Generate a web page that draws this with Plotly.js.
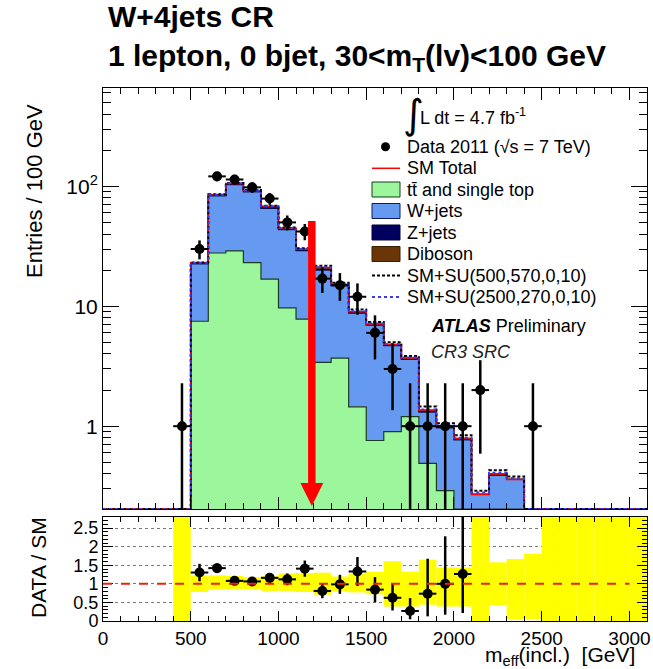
<!DOCTYPE html>
<html>
<head>
<meta charset="utf-8">
<script src="https://cdn.plot.ly/plotly-3.0.1.min.js"></script>
<style>
  html, body { margin: 0; padding: 0; background: #fff; }
  #chart { width: 653px; height: 669px; }
</style>
</head>
<body>
<div id="chart"></div>
<script>
// ---- m_eff(incl.) histogram, 100 GeV bins (bin centres in GeV) ----
const binCentres = [450, 550, 650, 750, 850, 950, 1050, 1150, 1250, 1350, 1450,
                    1550, 1650, 1750, 1850, 1950, 2050, 2150, 2250, 2350, 2450];

// Data 2011 event counts and their error bars
const dataCounts  = [1, 30, 121, 114, 98, 79, 50, 42, 17, 15, 12, 6, 3, 1, 1, 1, 1, 2, 0, 0, 1];
const dataErrUp   = [1.28, 5.4, 11, 10.7, 9.9, 8.9, 7.1, 6.5, 4.1, 3.9, 3.5, 2.4, 1.9, 1.28, 1.28, 1.28, 1.28, 1.55, 0, 0, 1.28];
const dataErrDown = [0.83, 5.4, 11, 10.7, 9.9, 8.9, 7.1, 6.5, 4.1, 3.9, 3.5, 2.4, 1.64, 0.83, 0.83, 0.83, 0.83, 1.41, 0, 0, 0.83];

// SM background components (stacked)
const ttbarSingleTop = [0, 7.5, 27.8, 28.9, 23.1, 16.8, 9.7, 7.8, 3.4, 3.7, 1.45, 0.76, 0.9, 1.2, 0.49, 0.29, 0, 0, 0, 0, 0];
const wJets          = [0, 15.0, 55.4, 74.5, 66.7, 48.5, 33.8, 21.3, 16.6, 11.1, 7.3, 6.2, 3.8, 2.4, 0.82, 0.68, 0.77, 0.27, 0.39, 0.36, 0];
const zJets          = [0, 0.3, 0.8, 0.9, 0.8, 0.7, 0.5, 0.3, 0.25, 0.15, 0.1, 0.06, 0.05, 0.05, 0.02, 0.01, 0.01, 0, 0, 0, 0];
const diboson        = [0, 0.2, 1.0, 1.2, 1.4, 2.0, 0.6, 0.4, 0.75, 0.25, 0.15, 0.08, 0.05, 0.05, 0.03, 0.02, 0.01, 0, 0.01, 0, 0];

// SUSY signal contributions added on top of the SM total
const sigSU500  = [0, 0.2, 0.8, 1.0, 1.0, 1.0, 0.8, 0.6, 0.8, 0.5, 0.4, 0.3, 0.2, 0.15, 0.1, 0.06, 0.05, 0.02, 0.03, 0.02, 0];
const sigSU2500 = [0, 0.05, 0.2, 0.3, 0.3, 0.3, 0.2, 0.2, 0.15, 0.1, 0.1, 0.08, 0.05, 0.04, 0.02, 0.02, 0.01, 0.01, 0.01, 0.01, 0];

// ---- ratio panel: relative SM uncertainty band per bin ----
const bandCentres = [450, 550, 650, 750, 850, 950, 1050, 1150, 1250, 1350, 1450, 1550, 1650, 1750,
                     1850, 1950, 2050, 2150, 2250, 2350, 2450, 2550, 2650, 2750, 2850, 2950, 3050];
const bandLow  = [0, 0.78, 0.85, 0.86, 0.85, 0.81, 0.81, 0.78, 0.71, 0.80, 0.77, 0.72, 0.39, 0.39,
                  0.44, 0.39, 0.39, 0, 0.43, 0.05, 0.05, 0, 0, 0, 0, 0, 0];
const bandHigh = [2.8, 1.23, 1.23, 1.21, 1.18, 1.21, 1.28, 1.29, 1.30, 1.20, 1.28, 1.32, 1.61, 1.33,
                  1.65, 1.44, 1.44, 2.8, 1.58, 1.67, 1.81, 2.8, 2.8, 2.8, 2.8, 2.8, 2.8];

// Axis tick labels
const mainYTickVals = [1, 10, 100];
const mainYTickText = ['1', '10', '10<sup>2</sup>'];
const ratioYTickVals = [0, 0.5, 1, 1.5, 2, 2.5];
const ratioYTickText = ['0', '0.5', '1', '1.5', '2', '2.5'];

// ---- geometry ----
const W = 653, H = 669;
const PLOT = { left: 103, right: 647, top: 88, bottom: 621 };
const px2x = X => (X - PLOT.left) / (PLOT.right - PLOT.left);
const px2y = Y => (PLOT.bottom - Y) / (PLOT.bottom - PLOT.top);

const BIN_W = 100, X_MIN = 0, X_MAX = 3100;
const Y_MIN = 0.204, Y_MAX = 660;        // main panel (log)
const R_MIN = 0, R_MAX = 2.8;            // ratio panel
const Y_FLOOR = Y_MIN;                   // empty bins sit on the frame

const FONT = 'Liberation Sans, Arial, Helvetica, sans-serif';

// step outline covering the full x range
function stepXY(vals) {
  const x = [X_MIN], y = [Y_FLOOR];
  binCentres.forEach((c, i) => { x.push(c - BIN_W / 2); y.push(Math.max(vals[i], Y_FLOOR)); });
  x.push(binCentres[binCentres.length - 1] + BIN_W / 2, X_MAX);
  y.push(Y_FLOOR, Y_FLOOR);
  return { x, y };
}
const addArr = (a, b) => a.map((v, i) => v + b[i]);

const cumTop  = ttbarSingleTop;
const cumW    = addArr(cumTop, wJets);
const cumZ    = addArr(cumW, zJets);
const smTotal = addArr(cumZ, diboson);
const smSU500 = addArr(smTotal, sigSU500);
const smSU2500 = addArr(smTotal, sigSU2500);

function stackTrace(vals, fill, lineColor, name) {
  const s = stepXY(vals);
  return {
    type: 'scatter', mode: 'lines', x: s.x, y: s.y, name: name,
    xaxis: 'x', yaxis: 'y', fill: 'tonexty', fillcolor: fill,
    line: { shape: 'hv', color: lineColor, width: 1.2 },
    hoverinfo: 'skip', showlegend: false
  };
}
function lineTrace(vals, color, dash, width, name) {
  const s = stepXY(vals);
  return {
    type: 'scatter', mode: 'lines', x: s.x, y: s.y, name: name,
    xaxis: 'x', yaxis: 'y',
    line: { shape: 'hv', color: color, dash: dash, width: width },
    hoverinfo: 'skip', showlegend: false
  };
}

const base = stepXY(binCentres.map(() => 0));
const traces = [
  { type: 'scatter', mode: 'lines', x: base.x, y: base.y, xaxis: 'x', yaxis: 'y',
    line: { width: 0, shape: 'hv' }, hoverinfo: 'skip', showlegend: false },
  stackTrace(cumTop, '#9cf79c', '#1d3b1d', 'tt and single top'),
  stackTrace(cumW, '#6699f0', '#0c1c5c', 'W+jets'),
  stackTrace(cumZ, '#00005e', '#00003a', 'Z+jets'),
  stackTrace(smTotal, '#6a3608', '#3a1c00', 'Diboson'),
  lineTrace(smTotal, '#ff0000', 'solid', 1.5, 'SM Total'),
  lineTrace(smSU500, '#000000', '3px,2px', 2, 'SM+SU(500,570,0,10)'),
  lineTrace(smSU2500, '#3a3aee', 'dot', 2, 'SM+SU(2500,270,0,10)')
];

// data points (non-empty bins)
const dIdx = binCentres.map((c, i) => i).filter(i => dataCounts[i] > 0);
traces.push({
  type: 'scatter', mode: 'markers', name: 'Data 2011', xaxis: 'x', yaxis: 'y',
  x: dIdx.map(i => binCentres[i]), y: dIdx.map(i => dataCounts[i]),
  marker: { color: '#000', size: 10 },
  error_y: { type: 'data', symmetric: false, array: dIdx.map(i => dataErrUp[i]),
             arrayminus: dIdx.map(i => dataErrDown[i]), color: '#000', thickness: 2.5, width: 0 },
  error_x: { type: 'constant', value: BIN_W / 2, color: '#000', thickness: 2, width: 0 },
  showlegend: false
});

// ratio panel: uncertainty band
traces.push({
  type: 'bar', xaxis: 'x2', yaxis: 'y2', x: bandCentres,
  base: bandLow, y: bandHigh.map((h, i) => h - bandLow[i]), width: BIN_W,
  marker: { color: '#ffff00', line: { width: 0 } }, hoverinfo: 'skip', showlegend: false
});

// ratio panel: data / SM
const rIdx = dIdx.filter(i => smTotal[i] > 0 && dataCounts[i] / smTotal[i] <= R_MAX);
traces.push({
  type: 'scatter', mode: 'markers', xaxis: 'x2', yaxis: 'y2', name: 'DATA / SM',
  x: rIdx.map(i => binCentres[i]), y: rIdx.map(i => dataCounts[i] / smTotal[i]),
  marker: { color: '#000', size: 10 },
  error_y: { type: 'data', symmetric: false, array: rIdx.map(i => dataErrUp[i] / smTotal[i]),
             arrayminus: rIdx.map(i => dataErrDown[i] / smTotal[i]), color: '#000', thickness: 2.5, width: 0 },
  error_x: { type: 'constant', value: BIN_W / 2, color: '#000', thickness: 2, width: 0 },
  showlegend: false
});

// ---- legend, drawn as shapes + text ----
const legRows = [
  { y: 146.7, label: 'Data 2011 (√s = 7 TeV)', kind: 'dot' },
  { y: 168.3, label: 'SM Total', kind: 'line', color: '#ff0000', dash: 'solid', width: 1.5 },
  { y: 189.5, label: 't\u0074\u0304 and single top', kind: 'box', fill: '#9cf79c', edge: '#1d3b1d' },
  { y: 211.0, label: 'W+jets', kind: 'box', fill: '#6699f0', edge: '#0c1c5c' },
  { y: 232.5, label: 'Z+jets', kind: 'box', fill: '#00005e', edge: '#00003a' },
  { y: 254.0, label: 'Diboson', kind: 'box', fill: '#6a3608', edge: '#3a1c00' },
  { y: 275.5, label: 'SM+SU(500,570,0,10)', kind: 'line', color: '#000000', dash: '3px,2px', width: 2 },
  { y: 297.0, label: 'SM+SU(2500,270,0,10)', kind: 'line', color: '#3a3aee', dash: 'dot', width: 2 }
];
const SYM_L = 372, SYM_R = 400, TXT_X = 405, BOX_H = 15;

const shapes = [];
const annotations = [];
legRows.forEach(r => {
  if (r.kind === 'dot') {
    shapes.push({ type: 'circle', xref: 'paper', yref: 'paper',
      x0: px2x(381), x1: px2x(390), y0: px2y(r.y + 4.5), y1: px2y(r.y - 4.5),
      fillcolor: '#000', line: { width: 0 } });
  } else if (r.kind === 'line') {
    shapes.push({ type: 'line', xref: 'paper', yref: 'paper',
      x0: px2x(SYM_L), x1: px2x(SYM_R), y0: px2y(r.y), y1: px2y(r.y),
      line: { color: r.color, dash: r.dash, width: r.width } });
  } else {
    shapes.push({ type: 'rect', xref: 'paper', yref: 'paper',
      x0: px2x(SYM_L), x1: px2x(SYM_R), y0: px2y(r.y + BOX_H / 2), y1: px2y(r.y - BOX_H / 2),
      fillcolor: r.fill, line: { color: r.edge, width: 1 } });
  }
  annotations.push({ xref: 'paper', yref: 'paper', x: px2x(TXT_X), y: px2y(r.y),
    xanchor: 'left', yanchor: 'middle', showarrow: false, text: r.label,
    font: { family: FONT, size: 18, color: '#000' } });
});

// luminosity label
annotations.push({ xref: 'paper', yref: 'paper', x: px2x(413), y: px2y(114), xanchor: 'center', yanchor: 'middle',
  showarrow: false, text: '∫', font: { family: 'DejaVu Sans, sans-serif', size: 40, color: '#000' } });
annotations.push({ xref: 'paper', yref: 'paper', x: px2x(418), y: px2y(117), xanchor: 'left', yanchor: 'middle',
  showarrow: false, text: 'L dt = 4.7 fb<sup>-1</sup>', font: { family: FONT, size: 18, color: '#000' } });

// experiment label
annotations.push({ xref: 'paper', yref: 'paper', x: px2x(429), y: px2y(326), xanchor: 'left', yanchor: 'middle',
  showarrow: false, text: '<b><i>ATLAS</i></b> Preliminary', font: { family: FONT, size: 18, color: '#000' } });
annotations.push({ xref: 'paper', yref: 'paper', x: px2x(429), y: px2y(352), xanchor: 'left', yanchor: 'middle',
  showarrow: false, text: '<i>CR3 SRC</i>', font: { family: FONT, size: 18, color: '#222' } });

// axis titles
annotations.push({ xref: 'paper', yref: 'paper', x: px2x(34), y: px2y(191), xanchor: 'center', yanchor: 'middle',
  showarrow: false, textangle: -90, text: 'Entries / 100 GeV', font: { family: FONT, size: 22, color: '#000' } });
annotations.push({ xref: 'paper', yref: 'paper', x: px2x(38), y: px2y(568), xanchor: 'center', yanchor: 'middle',
  showarrow: false, textangle: -90, text: 'DATA / SM', font: { family: FONT, size: 21, color: '#000' } });
annotations.push({ xref: 'paper', yref: 'paper', x: px2x(637), y: px2y(656), xanchor: 'right', yanchor: 'middle',
  showarrow: false, text: 'm<sub>eff</sub>(incl.)\u00a0\u00a0[GeV]', font: { family: FONT, size: 21, color: '#000' } });

// unity line in the ratio panel
shapes.push({ type: 'line', xref: 'x2', yref: 'y2', x0: 0, x1: 3000, y0: 1, y1: 1,
  line: { color: '#f02010', dash: 'dash', width: 2 }, layer: 'above' });

// red arrow marking the cut
const ARROW_X = 1190, ARROW_HALF = 65;
shapes.push({ type: 'line', xref: 'x', yref: 'paper', x0: ARROW_X, x1: ARROW_X,
  y0: px2y(221), y1: px2y(485), line: { color: '#ff0000', width: 7.5 }, layer: 'above' });
shapes.push({ type: 'path', xref: 'x', yref: 'paper', layer: 'above',
  path: `M ${ARROW_X - ARROW_HALF},${px2y(483)} L ${ARROW_X + ARROW_HALF},${px2y(483)} L ${ARROW_X},${px2y(506)} Z`,
  fillcolor: '#ff0000', line: { width: 0 } });

const tickFont = { family: FONT, size: 21, color: '#000' };
const xTickFont = { family: FONT, size: 19, color: '#000' };
const ratioTickFont = { family: FONT, size: 18, color: '#000' };
const frame = { showline: true, linecolor: '#000', linewidth: 1, mirror: 'allticks', zeroline: false };

const layout = {
  width: W, height: H,
  margin: { l: PLOT.left, r: W - PLOT.right, t: PLOT.top, b: H - PLOT.bottom, pad: 0 },
  paper_bgcolor: '#fff', plot_bgcolor: '#fff',
  showlegend: false,
  barmode: 'overlay',
  title: {
    text: 'W+4jets CR<br>1 lepton, 0 bjet, 30&lt;m<sub>T</sub>(lv)&lt;100 GeV',
    xref: 'container', yref: 'container', x: 108 / W, xanchor: 'left', y: 1 - 27 / H, yanchor: 'top',
    font: { family: FONT, size: 30, weight: 'bold', color: '#000' }
  },
  xaxis: Object.assign({
    domain: [0, 1], anchor: 'y', range: [X_MIN, X_MAX], showticklabels: false,
    ticks: 'inside', ticklen: 12, tickwidth: 1, tickcolor: '#000', tick0: 0, dtick: 500,
    minor: { ticks: 'inside', ticklen: 6, dtick: 100, tickcolor: '#000' }, showgrid: false
  }, frame),
  yaxis: Object.assign({
    domain: [px2y(509), 1], anchor: 'x', type: 'log',
    range: [Math.log10(Y_MIN), Math.log10(Y_MAX)],
    tickmode: 'array', tickvals: mainYTickVals, ticktext: mainYTickText, tickfont: tickFont,
    ticks: 'inside', ticklen: 16, tickwidth: 1, tickcolor: '#000',
    minor: { ticks: 'inside', ticklen: 8, dtick: 'D1', tickcolor: '#000' }, showgrid: false
  }, frame),
  xaxis2: Object.assign({
    domain: [0, 1], anchor: 'y2', range: [X_MIN, X_MAX], tickfont: xTickFont,
    ticks: 'inside', ticklen: 10, tickwidth: 1, tickcolor: '#000', tick0: 0, dtick: 500,
    minor: { ticks: 'inside', ticklen: 5, dtick: 100, tickcolor: '#000' }, showgrid: false
  }, frame),
  yaxis2: Object.assign({
    domain: [0, px2y(517)], anchor: 'x2', range: [R_MIN, R_MAX],
    tickmode: 'array', tickvals: ratioYTickVals, ticktext: ratioYTickText, tickfont: ratioTickFont,
    ticks: 'inside', ticklen: 10, tickwidth: 1, tickcolor: '#000',
    minor: { ticks: 'inside', ticklen: 5, dtick: 0.1, tick0: 0, tickcolor: '#000' },
    showgrid: true, gridcolor: '#777', griddash: 'dot', gridwidth: 1
  }, frame),
  shapes: shapes,
  annotations: annotations
};

Plotly.newPlot('chart', traces, layout, { displayModeBar: false, staticPlot: true });
</script>
</body>
</html>
